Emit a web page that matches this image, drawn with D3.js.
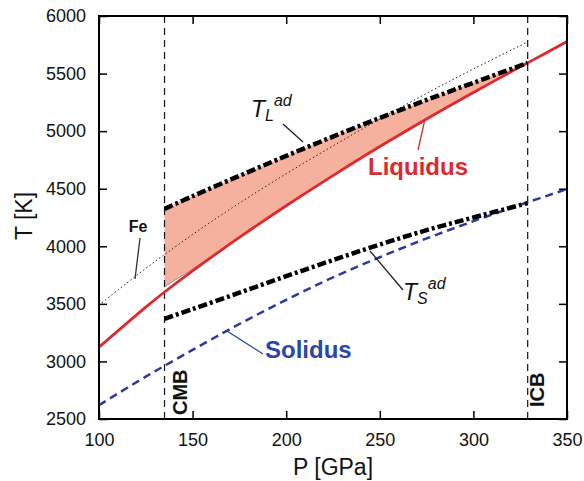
<!DOCTYPE html>
<html>
<head>
<meta charset="utf-8">
<script src="https://cdn.jsdelivr.net/npm/d3@7"></script>
<style>
  body { margin: 0; background: #fff; }
  text { font-family: "Liberation Sans", Arial, sans-serif; }
</style>
</head>
<body>
<svg id="chart" width="584" height="481"></svg>
<script>
// Data (P in GPa, T in K)
const liquidusP = [100, 125, 135, 150, 175, 200, 225, 250, 275, 300, 325, 329, 350];
const liquidusT = [3124, 3472, 3603, 3787, 4077, 4352, 4614, 4866, 5106, 5336, 5558, 5593, 5778];

const solidusP = [100, 125, 150, 175, 200, 225, 250, 275, 300, 325, 350];
const solidusT = [2620, 2868, 3100, 3325, 3535, 3730, 3905, 4068, 4218, 4360, 4497];

const tlAdP = [135, 150, 175, 200, 225, 250, 275, 300, 329];
const tlAdT = [4325, 4435, 4612, 4785, 4953, 5115, 5271, 5420, 5593];

const tsAdP = [135, 150, 175, 200, 225, 250, 275, 300, 329];
const tsAdT = [3370, 3455, 3597, 3740, 3880, 4015, 4140, 4250, 4375];

const feP = [100, 125, 150, 175, 200, 225, 250, 275, 300, 329];
const feT = [3489, 3808, 4102, 4375, 4630, 4872, 5105, 5328, 5540, 5775];

// lower edge of the shaded band (thin grey line near the CMB, then the liquidus)
const bandLowP = [135, 150, 165, 175, 200, 225, 250, 275, 300, 325, 329];
const bandLowT = [3650, 3802, 3966, 4077, 4352, 4614, 4866, 5106, 5336, 5558, 5593];

const boundaryP = [135, 329];          // CMB, ICB
const boundaryNames = ['CMB', 'ICB'];

const xTicks = [100, 150, 200, 250, 300, 350];
const yTicks = [2500, 3000, 3500, 4000, 4500, 5000, 5500, 6000];

const width = 584, height = 481;
const margin = {top: 16, right: 17, bottom: 62, left: 99};

const svg = d3.select('#chart');

let x = d3.scaleLinear().domain([100, 350]).range([margin.left, width - margin.right]);
let y = d3.scaleLinear().domain([2500, 6000]).range([height - margin.bottom, margin.top]);

const zip = (ps, ts) => ps.map((p, i) => [p, ts[i]]);

let line = d3.line()
    .x(d => x(d[0]))
    .y(d => y(d[1]))
    .curve(d3.curveCatmullRom.alpha(0.5));

// Shaded band between T_L^ad and the liquidus
let topPath = line(zip(tlAdP, tlAdT));
let lowPath = line(zip(bandLowP, bandLowT).reverse());
svg.append('path')
    .attr('d', topPath + 'L' + lowPath.slice(1) + 'Z')
    .attr('fill', '#f5b19d')
    .attr('stroke', 'none');

svg.append('path')
    .attr('d', line(zip(bandLowP, bandLowT).slice(0, 4)))
    .attr('fill', 'none')
    .attr('stroke', '#8a8a8a')
    .attr('stroke-width', 1);

// Fe dotted line
svg.append('path')
    .attr('d', line(zip(feP, feT)))
    .attr('fill', 'none')
    .attr('stroke', '#222')
    .attr('stroke-width', 1)
    .attr('stroke-dasharray', '1.5,2.5');

// CMB / ICB
svg.selectAll('.bound')
    .data(boundaryP)
    .enter().append('line')
    .attr('x1', d => x(d)).attr('x2', d => x(d))
    .attr('y1', y(6000)).attr('y2', y(2500))
    .attr('stroke', '#111')
    .attr('stroke-width', 1.2)
    .attr('stroke-dasharray', '7,5');

// Solidus
svg.append('path')
    .attr('d', line(zip(solidusP, solidusT)))
    .attr('fill', 'none')
    .attr('stroke', '#2c3a9e')
    .attr('stroke-width', 2.5)
    .attr('stroke-dasharray', '8,5');

// Liquidus
svg.append('path')
    .attr('d', line(zip(liquidusP, liquidusT)))
    .attr('fill', 'none')
    .attr('stroke', '#dc2a2f')
    .attr('stroke-width', 2.8);

// Adiabats
[[tlAdP, tlAdT], [tsAdP, tsAdT]].forEach(function (s) {
    svg.append('path')
        .attr('d', line(zip(s[0], s[1])))
        .attr('fill', 'none')
        .attr('stroke', '#000')
        .attr('stroke-width', 4.5)
        .attr('stroke-dasharray', '9,3,3,3');
});

// Axes (ticks inward on all sides)
let gx = svg.append('g')
    .attr('transform', `translate(0,${height - margin.bottom})`)
    .call(d3.axisBottom(x).tickValues(xTicks).tickSize(-8).tickPadding(14).tickFormat(d3.format('d')));
let gxt = svg.append('g')
    .attr('transform', `translate(0,${margin.top})`)
    .call(d3.axisTop(x).tickValues(xTicks).tickSize(-8).tickFormat(''));
let gy = svg.append('g')
    .attr('transform', `translate(${margin.left},0)`)
    .call(d3.axisLeft(y).tickValues(yTicks).tickSize(-8).tickPadding(13).tickFormat(d3.format('d')));
let gyr = svg.append('g')
    .attr('transform', `translate(${width - margin.right},0)`)
    .call(d3.axisRight(y).tickValues(yTicks).tickSize(-8).tickFormat(''));

[gx, gxt, gy, gyr].forEach(g => {
    g.select('.domain').remove();
    g.selectAll('.tick line').attr('stroke', '#000').attr('stroke-width', 1.5);
    g.selectAll('text').attr('font-size', 18).attr('fill', '#111')
        .style('font-family', '"Liberation Sans", Arial, sans-serif');
});

svg.append('rect')
    .attr('x', margin.left).attr('y', margin.top)
    .attr('width', width - margin.left - margin.right)
    .attr('height', height - margin.top - margin.bottom)
    .attr('fill', 'none')
    .attr('stroke', '#000')
    .attr('stroke-width', 2);

// Axis titles
svg.append('text')
    .attr('x', 333).attr('y', 475)
    .attr('text-anchor', 'middle')
    .attr('font-size', 23)
    .attr('fill', '#111')
    .text('P [GPa]');

svg.append('text')
    .attr('transform', 'translate(32,216) rotate(-90)')
    .attr('text-anchor', 'middle')
    .attr('font-size', 23)
    .attr('fill', '#111')
    .text('T [K]');

// Boundary labels
svg.selectAll('.blabel')
    .data(boundaryP)
    .enter().append('text')
    .attr('transform', (d, i) => `translate(${x(d) + (i === 0 ? 22 : 16)},${i === 0 ? 415 : 407}) rotate(-90)`)
    .attr('font-size', 20)
    .attr('font-weight', 'bold')
    .attr('fill', '#111')
    .text((d, i) => boundaryNames[i]);

// Curve labels and pointers
function pointer(x1, y1, x2, y2, color) {
    svg.append('line')
        .attr('x1', x1).attr('y1', y1).attr('x2', x2).attr('y2', y2)
        .attr('stroke', color).attr('stroke-width', 1.3);
}

svg.append('text')
    .attr('x', 368).attr('y', 175)
    .attr('font-size', 24).attr('font-weight', 'bold')
    .attr('fill', '#dc2a2f')
    .text('Liquidus');
pointer(418, 150, 425, 119, '#dc2a2f');

svg.append('text')
    .attr('x', 265).attr('y', 358)
    .attr('font-size', 24).attr('font-weight', 'bold')
    .attr('fill', '#2b46a6')
    .text('Solidus');
pointer(227, 331, 263, 354, '#2b46a6');

svg.append('text')
    .attr('x', 138).attr('y', 232)
    .attr('text-anchor', 'middle')
    .attr('font-size', 16).attr('font-weight', 'bold')
    .attr('fill', '#111')
    .text('Fe');
pointer(140, 238, 135, 279, '#333');

function adLabel(px, py, sub) {
    let t = svg.append('text')
        .attr('x', px).attr('y', py)
        .attr('font-style', 'italic')
        .attr('fill', '#111');
    t.append('tspan').attr('font-size', 23).text('T');
    t.append('tspan').attr('font-size', 16).attr('dy', 4).text(sub);
    t.append('tspan').attr('font-size', 16).attr('dy', -15).text('ad');
}

adLabel(251, 117, 'L');
pointer(283, 124, 303, 142, '#222');

adLabel(403, 300, 'S');
pointer(370, 251, 403, 290, '#222');
</script>
</body>
</html>
